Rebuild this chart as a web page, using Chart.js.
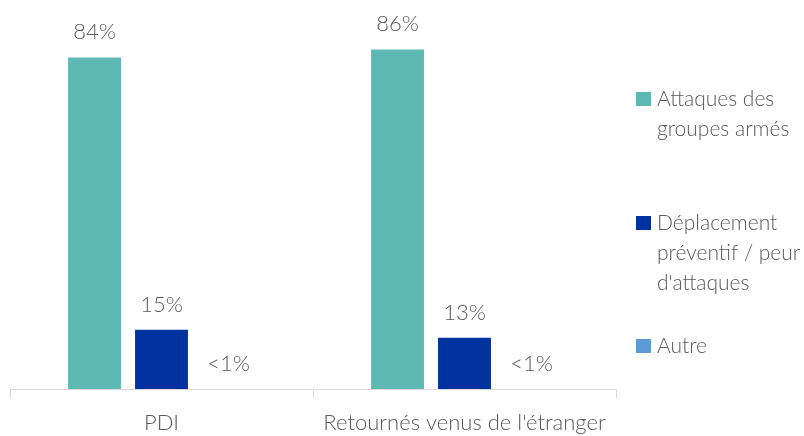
<!DOCTYPE html>
<html>
<head>
<meta charset="utf-8">
<script src="https://cdn.jsdelivr.net/npm/chart.js@4"></script>
<style>
  html, body { margin: 0; padding: 0; background: #fff; }
  #wrap { width: 804px; height: 436px; }
</style>
</head>
<body>
<div id="wrap"><canvas id="barres" width="804" height="436"></canvas></div>
<script>
// Données
const categories = ['PDI', "Retournés venus de l'étranger"];
const attaques = [84, 86];
const preventif = [15, 13];
const autre = [0.02, 0.02];
const seriesNames = ['Attaques des groupes armés', 'Déplacement préventif / peur d\'attaques', 'Autre'];
const legendLines = [
    ['Attaques des', 'groupes armés'],
    ['Déplacement', 'préventif / peur', "d'attaques"],
    ['Autre']
];

const FONT = 'Lato, "Open Sans", sans-serif';
const GRIS = '#595959';

// étiquettes au-dessus des barres
const etiquettes = {
    id: 'etiquettes',
    afterDatasetsDraw(chart) {
        const c = chart.ctx;
        c.save();
        c.font = '300 22px ' + FONT;
        c.fillStyle = GRIS;
        c.textAlign = 'center';
        c.textBaseline = 'alphabetic';
        chart.data.datasets.forEach((ds, i) => {
            chart.getDatasetMeta(i).data.forEach((bar, j) => {
                const v = ds.data[j];
                const txt = v < 1 ? '<1%' : Math.round(v) + '%';
                c.fillText(txt, bar.x, bar.y - 18);
            });
        });
        c.restore();
    }
};

// légende à droite, sur plusieurs lignes
const legende = {
    id: 'legende',
    afterDraw(chart) {
        const c = chart.ctx;
        const bases = [106, 230, 353];
        c.save();
        c.font = '300 21px ' + FONT;
        c.textBaseline = 'alphabetic';
        chart.data.datasets.forEach((ds, i) => {
            c.fillStyle = ds.backgroundColor;
            c.fillRect(636, bases[i] - 14, 15, 14);
            c.fillStyle = GRIS;
            legendLines[i].forEach((l, k) => {
                c.fillText(l, 657, bases[i] + k * 30);
            });
        });
        c.restore();
    }
};

new Chart(document.getElementById('barres'), {
    type: 'bar',
    data: {
        labels: categories,
        datasets: [
            {
                label: seriesNames[0],
                data: attaques,
                backgroundColor: '#5eb9b4'
            },
            {
                label: seriesNames[1],
                data: preventif,
                backgroundColor: '#0033a0'
            },
            {
                label: seriesNames[2],
                data: autre,
                backgroundColor: '#5b9bd5'
            }
        ]
    },
    options: {
        responsive: false,
        animation: false,
        categoryPercentage: 0.663,
        barPercentage: 0.79,
        layout: {
            padding: { left: 10, right: 188, top: 10, bottom: 0 }
        },
        plugins: {
            legend: { display: false },
            tooltip: { enabled: false }
        },
        scales: {
            x: {
                afterFit(scale) { scale.height = 47; },
                grid: {
                    offset: true,
                    drawOnChartArea: false,
                    drawTicks: true,
                    tickLength: 9,
                    color: '#d9d9d9'
                },
                border: { color: '#d9d9d9' },
                ticks: {
                    color: GRIS,
                    padding: 12,
                    font: { family: FONT, size: 22, weight: '300' }
                }
            },
            y: {
                display: false,
                min: 0,
                max: 96
            }
        }
    },
    plugins: [etiquettes, legende]
});
</script>
</body>
</html>
